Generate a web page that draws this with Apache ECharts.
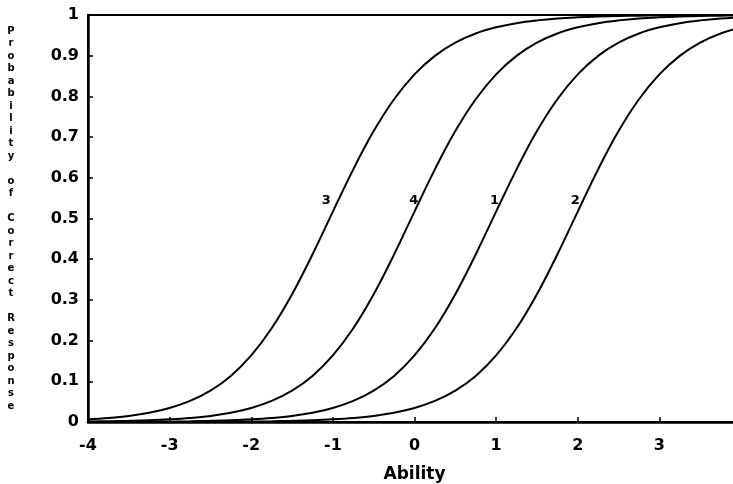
<!DOCTYPE html>
<html>
<head>
<meta charset="utf-8">
<script src="https://cdn.jsdelivr.net/npm/echarts@6/dist/echarts.min.js"></script>
<style>
  html, body { margin: 0; padding: 0; background: #ffffff; }
  #chart { width: 733px; height: 484px; }
</style>
</head>
<body>
<div id="chart"></div>
<script>
// Ability grid (x values of the sampled points)
var abilityPoints = [-4, -3.75, -3.5, -3.25, -3, -2.75, -2.5, -2.25, -2, -1.75, -1.5, -1.25, -1, -0.75, -0.5, -0.25, 0, 0.25, 0.5, 0.75, 1, 1.25, 1.5, 1.75, 2, 2.25, 2.5, 2.75, 3, 3.25, 3.5, 3.75, 4];

// Probability of correct response
var curve3 = [0.0065,0.0099,0.0150,0.0228,0.0345,0.0518,0.0771,0.1133,0.1636,0.2302,0.3139,0.4117,0.5170,0.6208,0.7147,0.7930,0.8542,0.8996,0.9321,0.9545,0.9697,0.9800,0.9868,0.9914,0.9943,0.9963,0.9976,0.9984,0.9990,0.9993,0.9996,0.9997,0.9998];
var curve4 = [0.0012,0.0018,0.0028,0.0042,0.0065,0.0099,0.0150,0.0228,0.0345,0.0518,0.0771,0.1133,0.1636,0.2302,0.3139,0.4117,0.5170,0.6208,0.7147,0.7930,0.8542,0.8996,0.9321,0.9545,0.9697,0.9800,0.9868,0.9914,0.9943,0.9963,0.9976,0.9984,0.9990];
var curve1 = [0.0002,0.0003,0.0005,0.0008,0.0012,0.0018,0.0028,0.0042,0.0065,0.0099,0.0150,0.0228,0.0345,0.0518,0.0771,0.1133,0.1636,0.2302,0.3139,0.4117,0.5170,0.6208,0.7147,0.7930,0.8542,0.8996,0.9321,0.9545,0.9697,0.9800,0.9868,0.9914,0.9943];
var curve2 = [0.0000,0.0001,0.0001,0.0001,0.0002,0.0003,0.0005,0.0008,0.0012,0.0018,0.0028,0.0042,0.0065,0.0099,0.0150,0.0228,0.0345,0.0518,0.0771,0.1133,0.1636,0.2302,0.3139,0.4117,0.5170,0.6208,0.7147,0.7930,0.8542,0.8996,0.9321,0.9545,0.9697];

// Curve labels and where they sit (data coordinates)
var curveNames = ['3', '4', '1', '2'];
var curveLabelAbility = [-1.08, -0.01, 0.98, 1.97];
var curveLabelProb = [0.543, 0.543, 0.543, 0.543];

// Tick labels
var xTickValues = [-4, -3, -2, -1, 0, 1, 2, 3, 4];
var xTickLabels = ['-4', '-3', '-2', '-1', '0', '1', '2', '3', '4'];
var yTickLabels = ['0', '0.1', '0.2', '0.3', '0.4', '0.5', '0.6', '0.7', '0.8', '0.9', '1'];

var xTitle = 'Ability';
var yTitle = 'Probability of Correct Response';

function pairs(ys) {
  return abilityPoints.map(function (x, i) { return [x, ys[i]]; });
}

var INK = '#000000';
var FONT = '"DejaVu Sans", "Liberation Sans", Arial, sans-serif';

var lineStyle = { color: INK, width: 2 };
function curveSeries(name, ys) {
  return {
    name: name, type: 'line', data: pairs(ys),
    smooth: 0.4, showSymbol: false, symbol: 'none',
    lineStyle: lineStyle, silent: true, z: 3
  };
}

var chart = echarts.init(document.getElementById('chart'), null, { renderer: 'canvas' });
chart.setOption({
  animation: false,
  backgroundColor: '#ffffff',
  grid: {
    left: 88, right: -8, top: 15, bottom: 62,
    outerBoundsMode: 'none', containLabel: false,
    show: true, borderColor: INK, borderWidth: 2, backgroundColor: 'transparent'
  },
  xAxis: {
    type: 'value', min: -4, max: 4, interval: 1,
    name: xTitle, nameLocation: 'middle', nameGap: 44,
    nameTextStyle: { fontFamily: FONT, fontWeight: 'bold', fontSize: 17, color: INK },
    axisLine: { show: true, onZero: false, lineStyle: { color: INK, width: 2.5 } },
    axisTick: { show: true, inside: true, length: 5, lineStyle: { color: INK, width: 1.5 } },
    splitLine: { show: false },
    axisLabel: {
      margin: 16, fontFamily: FONT, fontWeight: 'bold', fontSize: 16, color: INK,
      formatter: function (v) {
        var i = xTickValues.indexOf(Math.round(v));
        return i >= 0 ? xTickLabels[i] : '';
      }
    }
  },
  yAxis: {
    type: 'value', min: 0, max: 1, interval: 0.1,
    name: yTitle.split('').join('\n'), nameLocation: 'middle', nameGap: 77, nameRotate: 0,
    nameTextStyle: { fontFamily: FONT, fontWeight: 'bold', fontSize: 10, lineHeight: 12.5, color: INK, align: 'center', verticalAlign: 'middle' },
    axisLine: { show: true, onZero: false, lineStyle: { color: INK, width: 2.5 } },
    axisTick: { show: true, inside: true, length: 5, lineStyle: { color: INK, width: 1.5 } },
    splitLine: { show: false },
    axisLabel: {
      margin: 9, fontFamily: FONT, fontWeight: 'bold', fontSize: 16, color: INK,
      formatter: function (v) {
        var i = Math.round(v * 10);
        return yTickLabels[i] !== undefined ? yTickLabels[i] : '';
      }
    }
  },
  series: [
    curveSeries('3', curve3),
    curveSeries('4', curve4),
    curveSeries('1', curve1),
    curveSeries('2', curve2),
    {
      name: 'labels', type: 'scatter', silent: true, symbolSize: 0, z: 4,
      itemStyle: { opacity: 1, color: INK },
      data: curveNames.map(function (n, i) { return { value: [curveLabelAbility[i], curveLabelProb[i]], name: n }; }),
      label: {
        show: true, position: 'inside', formatter: '{b}', opacity: 1,
        fontFamily: FONT, fontWeight: 'bold', fontSize: 13, color: INK
      }
    }
  ]
});
</script>
</body>
</html>
